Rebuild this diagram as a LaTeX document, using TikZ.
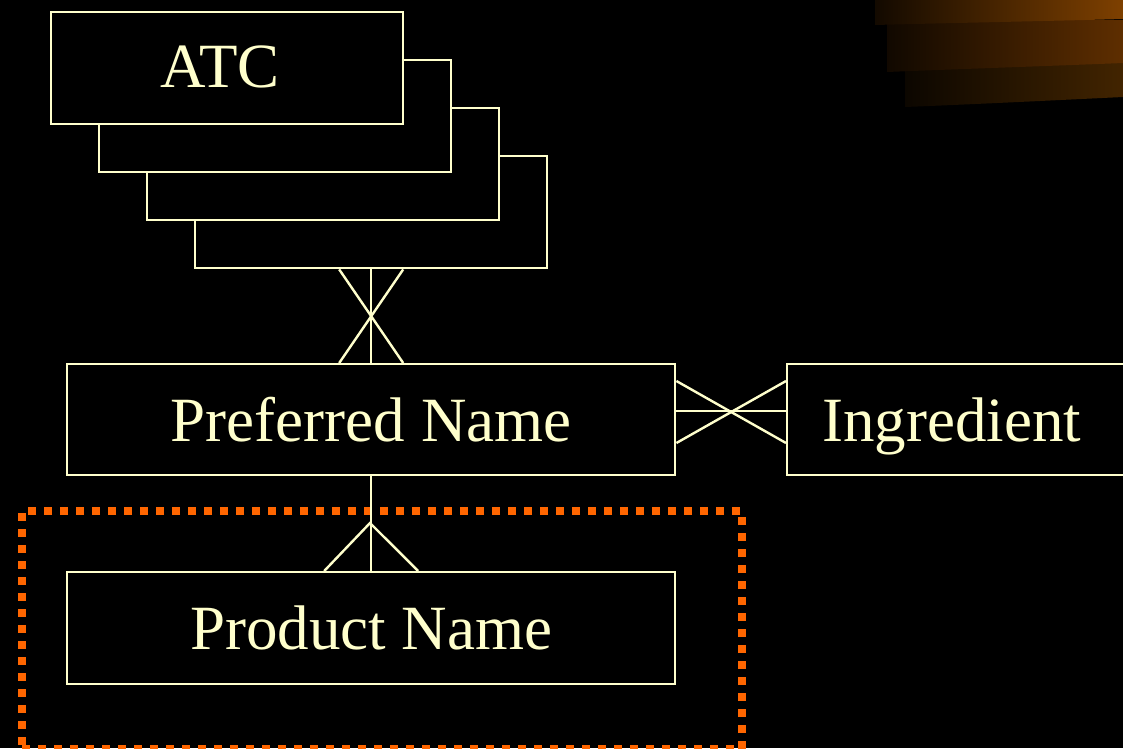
\documentclass[tikz,border=0pt]{standalone}
\usepackage{fontspec}
\setmainfont{Liberation Serif}
\definecolor{cream}{HTML}{FFFFCC}
\definecolor{dotorange}{HTML}{FF6600}
\definecolor{bandA}{RGB}{126,64,0}
\definecolor{bandB}{RGB}{94,46,0}
\definecolor{bandC}{RGB}{66,36,0}
\begin{document}
\begin{tikzpicture}[x=1pt,y=-1pt,
  ent/.style={draw=cream, line width=2.4pt, fill=black, text=cream, inner sep=0pt, anchor=north west,
    font=\fontsize{63}{70}\selectfont},
  link/.style={draw=cream, line width=2.4pt},
  dotbox/.style={draw=dotorange, line width=8pt, dash pattern=on 8pt off 8pt, inner sep=0pt, anchor=north west}]
\fill[black] (0,0) rectangle (1123,748);
\useasboundingbox (0,0) rectangle (1123,748);
% decorative bands
\shade[left color=bandC!18!black, right color=bandC] (905,60) -- (905,107) .. controls (980,104) and (1060,100) .. (1123,97) -- (1123,60) -- cycle;
\shade[left color=bandB!18!black, right color=bandB] (887,20) -- (887,72) .. controls (960,69) and (1050,66) .. (1123,63) -- (1123,20) -- cycle;
\shade[left color=bandA!15!black, right color=bandA] (875,0) -- (875,25) .. controls (950,23) and (1050,21) .. (1123,19) -- (1123,0) -- cycle;
% ATC stack
\node[ent, minimum width=352pt, minimum height=112pt] (a4) at (194,155) {};
\node[ent, minimum width=352pt, minimum height=112pt] (a3) at (146,107) {};
\node[ent, minimum width=352pt, minimum height=112pt] (a2) at (98,59) {};
\node[ent, minimum width=352pt, minimum height=112pt] (a1) at (50,11) {\hspace*{-14pt}\raisebox{3pt}{ATC}};
% entities
\node[ent, minimum width=608pt, minimum height=111pt] (pn) at (66,363) {Preferred Name};
\node[ent, minimum height=111pt, inner xsep=35pt, text depth=0pt] (ing) at (786,363) {\makebox[340pt][l]{Ingredient}};
\node[ent, minimum width=608pt, minimum height=112pt] (prod) at (66,571) {Product Name};
\node[dotbox, minimum width=720pt, minimum height=238pt] (grp) at (18,507) {};
% ATC -- Preferred Name (many to many)
\draw[link] (a4.south) -- (pn.north);
\draw[link] ([xshift=-32pt]a4.south) -- ([xshift=32pt]pn.north);
\draw[link] ([xshift=32pt]a4.south) -- ([xshift=-32pt]pn.north);
% Preferred Name -- Ingredient (many to many)
\coordinate (pe) at (pn.east |- 0,411);
\coordinate (ie) at (ing.west |- 0,411);
\draw[link] (pe) -- (ie);
\draw[link] ([yshift=-32pt]pe) -- ([yshift=30pt]ie);
\draw[link] ([yshift=30pt]pe) -- ([yshift=-32pt]ie);
% Preferred Name -- Product Name (one to many)
\coordinate (apex) at (370,523);
\draw[link] (pn.south) -- (prod.north);
\draw[link] ([xshift=-47pt]prod.north) -- (apex) -- ([xshift=47pt]prod.north);
\end{tikzpicture}
\end{document}
